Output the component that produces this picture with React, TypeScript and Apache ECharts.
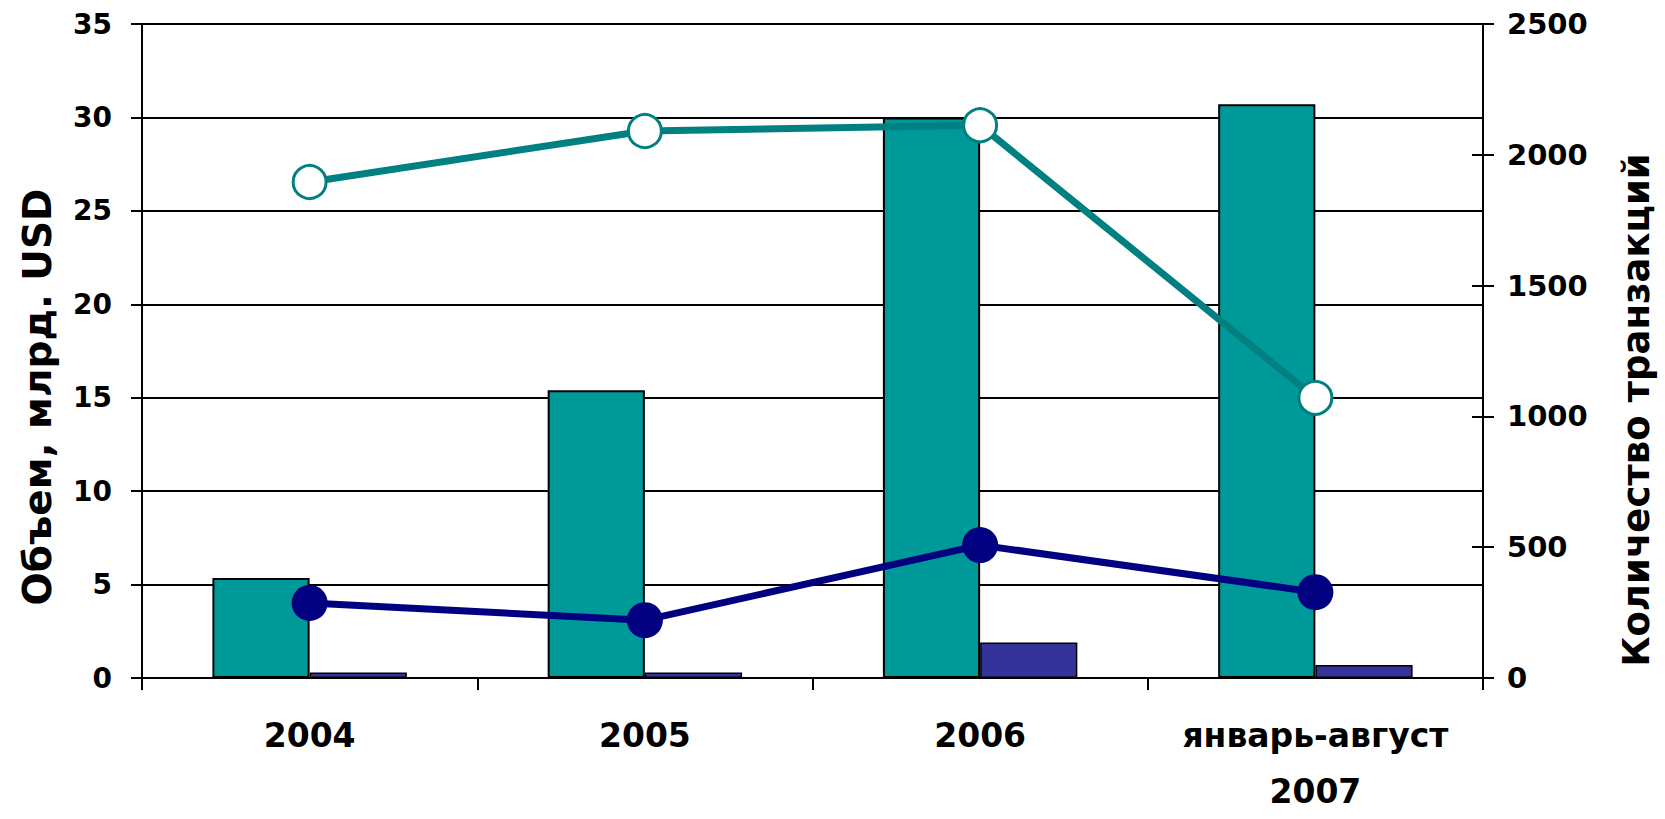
import React, { useEffect, useRef } from "react";
import * as echarts from "echarts";

const categories = ["2004", "2005", "2006", "январь-август\n2007"];
const volumeTeal = [5.35, 15.4, 30.0, 30.7];
const volumeNavy = [0.3, 0.3, 1.9, 0.7];
const countTeal = [1896, 2091, 2113, 1071];
const countNavy = [287, 221, 508, 328];
const leftTitle = "Объем, млрд. USD";
const rightTitle = "Количество транзакций";

const FONT = "DejaVu Sans";

export default function App() {
  const ref = useRef<HTMLDivElement>(null);
  useEffect(() => {
    if (!ref.current) return;
    const chart = echarts.init(ref.current, undefined, { renderer: "svg" });
    const labelStyle = {
      color: "#000",
      fontFamily: FONT,
      fontWeight: "bold" as const,
      fontSize: 28,
    };
    const plain = (v: number) => String(v);
    chart.setOption({
      animation: false,
      backgroundColor: "#fff",
      grid: { left: 142, right: 182, top: 24, bottom: 116, containLabel: false },
      xAxis: {
        type: "category",
        data: categories,
        axisLine: { show: true, lineStyle: { color: "#000", width: 2 } },
        axisTick: { show: true, length: 12, lineStyle: { color: "#000", width: 2 } },
        axisLabel: {
          color: "#000",
          fontFamily: FONT,
          fontWeight: "bold",
          fontSize: 33,
          lineHeight: 56,
          margin: 29,
          interval: 0,
        },
        splitLine: { show: false },
      },
      yAxis: [
        {
          type: "value",
          min: 0,
          max: 35,
          interval: 5,
          position: "left",
          axisLine: { show: true, lineStyle: { color: "#000", width: 2 } },
          axisTick: { show: true, length: 11, lineStyle: { color: "#000", width: 2 } },
          axisLabel: { ...labelStyle, margin: 30, formatter: plain },
          splitLine: { show: true, lineStyle: { color: "#000", width: 2 } },
        },
        {
          type: "value",
          min: 0,
          max: 2500,
          interval: 500,
          position: "right",
          axisLine: { show: true, lineStyle: { color: "#000", width: 2 } },
          axisTick: { show: true, length: 11, lineStyle: { color: "#000", width: 2 } },
          axisLabel: { ...labelStyle, fontSize: 29, margin: 24, formatter: plain },
          splitLine: { show: false },
        },
        {
          type: "value",
          min: 0,
          max: 2500,
          interval: 500,
          position: "right",
          axisLine: { show: false },
          axisTick: { show: true, inside: true, length: 11, lineStyle: { color: "#000", width: 2 } },
          axisLabel: { show: false },
          splitLine: { show: false },
        },
      ],
      graphic: [
        {
          type: "text",
          x: 37,
          y: 397,
          rotation: Math.PI / 2,
          style: {
            text: leftTitle,
            fill: "#000",
            font: `bold 39px "${FONT}"`,
            align: "center",
            verticalAlign: "middle",
          },
        },
        {
          type: "text",
          x: 1636,
          y: 410,
          rotation: Math.PI / 2,
          style: {
            text: rightTitle,
            fill: "#000",
            font: `bold 37px "${FONT}"`,
            align: "center",
            verticalAlign: "middle",
          },
        },
      ],
      series: [
        {
          type: "bar",
          yAxisIndex: 0,
          data: volumeTeal,
          barGap: "0%",
          barCategoryGap: "42%",
          itemStyle: { color: "#009999", borderColor: "#000", borderWidth: 2 },
          z: 2,
        },
        {
          type: "bar",
          yAxisIndex: 0,
          data: volumeNavy,
          barGap: "0%",
          barCategoryGap: "42%",
          itemStyle: { color: "#333399", borderColor: "#000", borderWidth: 1.5 },
          z: 2,
        },
        {
          type: "line",
          yAxisIndex: 1,
          data: countTeal,
          symbol: "circle",
          symbolSize: 33,
          lineStyle: { color: "#008080", width: 7 },
          itemStyle: { color: "#ffffff", borderColor: "#008080", borderWidth: 3 },
          z: 3,
        },
        {
          type: "line",
          yAxisIndex: 1,
          data: countNavy,
          symbol: "circle",
          symbolSize: 36,
          lineStyle: { color: "#000080", width: 7 },
          itemStyle: { color: "#000080" },
          z: 3,
        },
      ],
    });
    return () => chart.dispose();
  }, []);
  return (
    <div
      ref={ref}
      style={{ position: "fixed", left: 0, top: 0, width: 1665, height: 819 }}
    />
  );
}
